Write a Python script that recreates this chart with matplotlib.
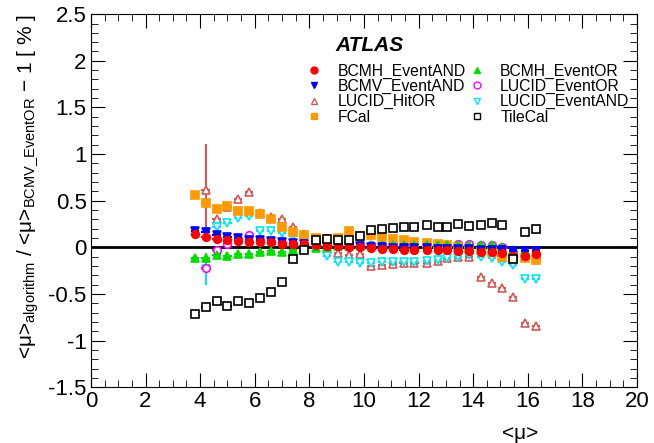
import matplotlib.pyplot as plt
import numpy as np

plt.rcParams['font.family'] = ['Liberation Sans', 'DejaVu Sans']
plt.rcParams['mathtext.fontset'] = 'custom'
plt.rcParams['mathtext.rm'] = 'Liberation Sans'
plt.rcParams['mathtext.it'] = 'Liberation Sans:italic'
plt.rcParams['mathtext.bf'] = 'Liberation Sans:bold'

nan = np.nan

# <mu> bins (shared by all algorithms)
mu = [3.8, 4.2, 4.6, 5.0, 5.4, 5.8, 6.2, 6.6, 7.0, 7.4, 7.8, 8.25, 8.65, 9.05, 9.45, 9.85,
      10.25, 10.65, 11.05, 11.45, 11.85, 12.3, 12.7, 13.05, 13.45, 13.85, 14.3, 14.7, 15.05, 15.45, 15.9, 16.3]

bcmh_and = [0.14, 0.11, 0.09, 0.075, 0.07, 0.06, 0.06, 0.06, 0.04, 0.035, 0.04, 0.03, 0.01, 0.01, 0.0, 0.0,
            -0.01, -0.02, -0.02, -0.03, -0.03, -0.03, -0.03, -0.03, -0.04, -0.04, -0.05, -0.05, -0.06, -0.09, -0.09, -0.07]
bcmv_and = [0.18, 0.16, 0.13, 0.11, 0.10, 0.08, 0.08, 0.07, 0.06, 0.05, 0.04, 0.03, 0.02, 0.02, 0.01, 0.01,
            0.0, 0.0, -0.01, -0.01, -0.01, -0.01, -0.02, -0.02, -0.02, -0.02, -0.03, -0.03, -0.03, -0.04, -0.04, -0.04]
lucid_hitor = [nan, 0.61, 0.30, 0.43, 0.52, 0.59, 0.37, 0.33, 0.30, 0.22, 0.14, 0.05, -0.02, -0.06, -0.085, -0.07,
               -0.2, -0.19, -0.18, -0.17, -0.17, -0.17, -0.15, -0.12, -0.1, -0.1, -0.32, -0.38, -0.44, -0.53, -0.81, -0.84]
fcal = [0.56, 0.47, 0.41, 0.44, 0.39, 0.39, 0.36, 0.30, 0.22, 0.16, 0.13, 0.10, 0.09, 0.10, 0.17, 0.12,
        0.13, 0.11, 0.09, 0.075, 0.06, 0.05, 0.04, 0.02, 0.0, -0.02, -0.03, -0.05, -0.10, -0.12, -0.12, -0.14]
bcmh_or = [-0.12, -0.12, -0.085, -0.09, -0.07, -0.07, -0.05, -0.04, -0.05, -0.03, -0.02, -0.01, 0.0, 0.01, 0.01, 0.02,
           0.02, 0.02, 0.02, 0.02, 0.02, 0.02, 0.02, 0.02, 0.02, 0.02, 0.02, 0.02, 0.0, -0.03, -0.05, -0.05]
lucid_or = [nan, -0.22, -0.03, 0.04, 0.09, 0.13, 0.08, 0.06, 0.05, 0.04, 0.03, 0.03, 0.03, 0.03, 0.02, 0.02,
            0.02, 0.02, 0.02, 0.02, 0.02, 0.03, 0.03, 0.03, 0.04, 0.04, 0.03, 0.02, 0.0, -0.05, -0.1, -0.12]
lucid_and = [nan, -0.23, 0.22, 0.26, 0.31, 0.34, 0.18, 0.17, 0.15, 0.12, 0.08, 0.03, -0.09, -0.16, -0.16, -0.17,
             -0.17, -0.16, -0.16, -0.16, -0.16, -0.15, -0.14, -0.12, -0.1, -0.08, -0.1, -0.12, -0.16, -0.19, -0.34, -0.34]
tilecal = [-0.72, -0.64, -0.58, -0.63, -0.58, -0.60, -0.54, -0.48, -0.37, -0.13, -0.03, 0.08, 0.09, 0.08, 0.08, 0.12,
           0.19, 0.20, 0.21, 0.22, 0.22, 0.24, 0.22, 0.22, 0.25, 0.23, 0.24, 0.265, 0.24, -0.13, 0.16, 0.20]

# only the low-mu LUCID points have visible error bars
hitor_err = [0, 0.5] + [0.01] * 30
lucid_and_err = [0, 0.17] + [0.01] * 30

fig = plt.figure(figsize=(6.54, 4.43), dpi=100)
ax = fig.add_axes([0.139, 0.126, 0.835, 0.842])

ax.axhline(0, color='black', lw=2, zorder=1)

# name, values, yerr, marker, colour, filled
series = [
    ('LUCID_HitOR', lucid_hitor, hitor_err, '^', '#d45a5a', False),
    ('LUCID_EventAND', lucid_and, lucid_and_err, 'v', '#00e8f0', False),
    ('LUCID_EventOR', lucid_or, None, 'o', '#ff00ff', False),
    ('FCal', fcal, None, 's', '#ff9900', True),
    ('BCMH_EventOR', bcmh_or, None, '^', '#00dd00', True),
    ('BCMV_EventAND', bcmv_and, None, 'v', '#0000ff', True),
    ('BCMH_EventAND', bcmh_and, None, 'o', '#ff0000', True),
    ('TileCal', tilecal, None, 's', 'black', False),
]

for i, (name, vals, err, mk, col, filled) in enumerate(series):
    ax.errorbar(mu, vals, yerr=err, xerr=0.15, fmt=mk, color=col, ecolor=col,
                mfc=col if filled else 'white', mec=col, ms=5.5, mew=1.2,
                elinewidth=1.5, capsize=0, zorder=2 + i, label=name)

# legend is filled column by column
order = ['BCMH_EventAND', 'BCMV_EventAND', 'LUCID_HitOR', 'FCal',
         'BCMH_EventOR', 'LUCID_EventOR', 'LUCID_EventAND', 'TileCal']
leg_h = []
for name in order:
    mk, col, filled = [(s[3], s[4], s[5]) for s in series if s[0] == name][0]
    leg_h.append(plt.Line2D([], [], ls='none', marker=mk, color=col,
                            mfc=col if filled else 'white', mec=col, ms=5))
ax.legend(leg_h, order, ncol=2, frameon=False, loc='upper left',
          bbox_to_anchor=(0.394, 0.868), borderaxespad=0, borderpad=0,
          fontsize=11.3, handletextpad=1.0, columnspacing=0.2, labelspacing=0.02,
          handlelength=1.0)

ax.text(0.447, 0.915, 'ATLAS', transform=ax.transAxes, fontsize=15,
        fontweight='bold', style='italic', ha='left', va='center')

ax.set_xlim(0, 20)
ax.set_ylim(-1.5, 2.5)
ax.set_xticks(np.arange(0, 21, 2))
ax.set_yticks(np.arange(-1.5, 2.6, 0.5))
ax.set_yticklabels(['-1.5', '-1', '-0.5', '0', '0.5', '1', '1.5', '2', '2.5'])
ax.set_xticks(np.arange(0, 20.1, 0.5), minor=True)
ax.set_yticks(np.arange(-1.5, 2.51, 0.1), minor=True)
ax.tick_params(which='both', direction='in', top=True, right=True, labelsize=16)
ax.tick_params(which='major', length=10, pad=3)
ax.tick_params(which='minor', length=5)

ax.set_ylabel('<μ>$_{\\rm algorithm}$ / <μ>$_{\\rm BCMV\\_EventOR}$ $-$ 1 [ % ]',
              loc='top', fontsize=15, labelpad=6)
fig.text(0.795, 0.0, '<μ>', fontsize=15, ha='center', va='bottom')

fig.savefig('out.png', dpi=100)
